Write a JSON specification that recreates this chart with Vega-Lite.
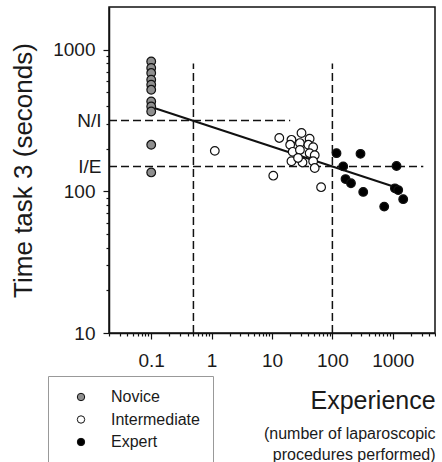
{
  "$schema": "https://vega.github.io/schema/vega-lite/v6.json",
  "width": 326,
  "height": 326,
  "padding": {"left": 10, "top": 7, "right": 0, "bottom": 0},
  "background": "white",
  "config": {
    "font": "Liberation Sans",
    "view": {"stroke": "#111", "strokeWidth": 1.5},
    "axis": {"grid": false, "domainColor": "#111", "domainWidth": 1.5, "tickColor": "#111", "tickWidth": 1.2, "labelColor": "#1a1a1a", "titleColor": "#1a1a1a", "labelFont": "Liberation Sans", "titleFont": "Liberation Sans", "titleFontWeight": "normal"}
  },
  "datasets": {
    "pts": [
      {"group": "Novice", "x": 0.1, "y": 826},
      {"group": "Novice", "x": 0.1, "y": 743},
      {"group": "Novice", "x": 0.1, "y": 684},
      {"group": "Novice", "x": 0.1, "y": 614},
      {"group": "Novice", "x": 0.1, "y": 566},
      {"group": "Novice", "x": 0.1, "y": 521},
      {"group": "Novice", "x": 0.1, "y": 431},
      {"group": "Novice", "x": 0.1, "y": 397},
      {"group": "Novice", "x": 0.1, "y": 366},
      {"group": "Novice", "x": 0.1, "y": 213},
      {"group": "Novice", "x": 0.1, "y": 136},
      {"group": "Intermediate", "x": 1.13, "y": 193},
      {"group": "Intermediate", "x": 13.2, "y": 238},
      {"group": "Intermediate", "x": 10.5, "y": 129},
      {"group": "Intermediate", "x": 65, "y": 107},
      {"group": "Intermediate", "x": 21, "y": 231},
      {"group": "Intermediate", "x": 30.8, "y": 258},
      {"group": "Intermediate", "x": 42, "y": 235},
      {"group": "Intermediate", "x": 20, "y": 213},
      {"group": "Intermediate", "x": 29, "y": 219},
      {"group": "Intermediate", "x": 40, "y": 213},
      {"group": "Intermediate", "x": 48, "y": 205},
      {"group": "Intermediate", "x": 22, "y": 190},
      {"group": "Intermediate", "x": 29, "y": 196},
      {"group": "Intermediate", "x": 42, "y": 186},
      {"group": "Intermediate", "x": 51, "y": 180},
      {"group": "Intermediate", "x": 21, "y": 163},
      {"group": "Intermediate", "x": 32, "y": 160},
      {"group": "Intermediate", "x": 48, "y": 163},
      {"group": "Intermediate", "x": 51, "y": 146},
      {"group": "Intermediate", "x": 27, "y": 172},
      {"group": "Expert", "x": 117, "y": 186},
      {"group": "Expert", "x": 292, "y": 184},
      {"group": "Expert", "x": 151, "y": 150},
      {"group": "Expert", "x": 1153, "y": 151},
      {"group": "Expert", "x": 165, "y": 122},
      {"group": "Expert", "x": 203, "y": 114},
      {"group": "Expert", "x": 324, "y": 99},
      {"group": "Expert", "x": 1084, "y": 105},
      {"group": "Expert", "x": 1230, "y": 102},
      {"group": "Expert", "x": 1488, "y": 88},
      {"group": "Expert", "x": 721, "y": 78}
    ],
    "refs": [
      {"x": 0.02, "x2": 20, "y": 316, "y2": 316},
      {"x": 0.02, "x2": 3200, "y": 150, "y2": 150},
      {"x": 0.5, "x2": 0.5, "y": 10, "y2": 800},
      {"x": 100, "x2": 100, "y": 10, "y2": 800}
    ],
    "fit": [
      {"x": 0.1, "y": 394},
      {"x": 1150, "y": 106.5}
    ]
  },
  "title": {
    "text": "Experience",
    "subtitle": ["(number of laparoscopic", "procedures performed)"],
    "orient": "bottom",
    "anchor": "end",
    "font": "Liberation Sans",
    "subtitleFont": "Liberation Sans",
    "fontSize": 25,
    "fontWeight": "normal",
    "subtitleFontSize": 16,
    "subtitleLineHeight": 21,
    "color": "#1a1a1a",
    "subtitleColor": "#1a1a1a",
    "offset": -75,
    "subtitlePadding": 12
  },
  "encoding": {
    "x": {
      "field": "x", "type": "quantitative",
      "scale": {"type": "log", "domain": [0.02, 5000], "nice": false},
      "axis": {
        "title": null,
        "values": [0.02,0.03,0.04,0.05,0.06,0.07,0.08,0.09,0.1,0.2,0.3,0.4,0.5,0.6,0.7,0.8,0.9,1,2,3,4,5,6,7,8,9,10,20,30,40,50,60,70,80,90,100,200,300,400,500,600,700,800,900,1000,2000,3000,4000,5000],
        "labelExpr": "indexof([0.1,1,10,100,1000], datum.value) >= 0 ? toString(datum.value) : ''",
        "labelOverlap": false,
        "labelFontSize": 19,
        "labelPadding": 12,
        "tickSize": {"condition": {"test": "indexof([0.1,1,10,100,1000], datum.value) >= 0", "value": 6}, "value": 3}
      }
    },
    "y": {
      "field": "y", "type": "quantitative",
      "scale": {"type": "log", "domain": [10, 2000], "nice": false},
      "axis": {
        "title": "Time task 3 (seconds)",
        "titleFontSize": 26,
        "titlePadding": 16,
        "values": [10,20,30,40,50,60,70,80,90,100,200,300,400,500,600,700,800,900,1000,150,316],
        "labelExpr": "datum.value == 316 ? 'N/I' : datum.value == 150 ? 'I/E' : (indexof([10,100,1000], datum.value) >= 0 ? toString(datum.value) : '')",
        "labelOverlap": false,
        "labelFontSize": 19,
        "labelPadding": 8,
        "tickSize": {"condition": [{"test": "datum.value == 316 || datum.value == 150", "value": 0}, {"test": "indexof([10,100,1000], datum.value) >= 0", "value": 6}], "value": 3}
      }
    }
  },
  "layer": [
    {
      "data": {"name": "refs"},
      "mark": {"type": "rule", "color": "#111", "strokeWidth": 1.5, "strokeDash": [8, 4]},
      "encoding": {"x2": {"field": "x2"}, "y2": {"field": "y2"}}
    },
    {
      "data": {"name": "fit"},
      "mark": {"type": "line", "color": "#111", "strokeWidth": 2}
    },
    {
      "data": {"name": "pts"},
      "mark": {"type": "point", "shape": "circle", "filled": true, "stroke": "#111", "strokeWidth": 1.2, "size": 75, "opacity": 1},
      "encoding": {
        "fill": {
          "field": "group", "type": "nominal",
          "scale": {"domain": ["Novice", "Intermediate", "Expert"], "range": ["#8f8f8f", "#ffffff", "#000000"]},
          "legend": {
            "title": null,
            "orient": "none",
            "legendX": -61,
            "legendY": 369,
            "padding": 13,
            "strokeColor": "#999",
            "fillColor": "white",
            "symbolSize": 55,
            "symbolStrokeColor": "#111",
            "symbolStrokeWidth": 1,
            "symbolOffset": 12,
            "labelOffset": 22,
            "labelFontSize": 16,
            "labelColor": "#1a1a1a",
            "labelFont": "Liberation Sans",
            "rowPadding": 6.5,
            "labelLimit": 200
          }
        }
      }
    }
  ]
}
